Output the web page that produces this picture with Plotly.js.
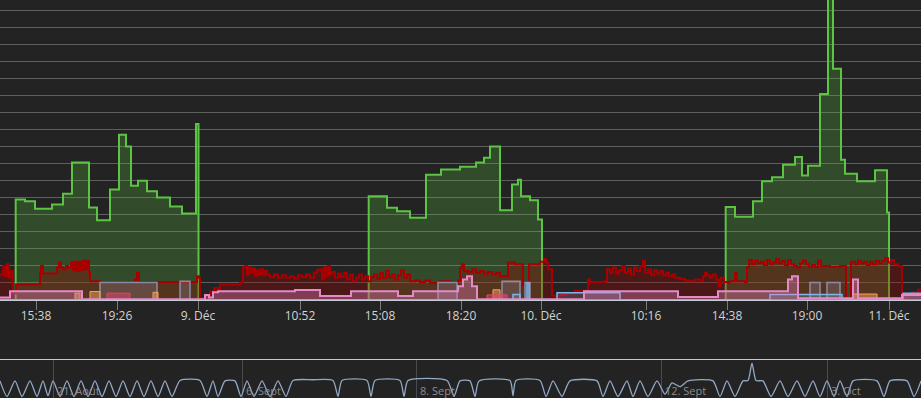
<!DOCTYPE html>
<html>
<head>
<meta charset="utf-8">
<script src="https://cdn.plot.ly/plotly-3.0.1.min.js"></script>
<style>
  html, body { margin: 0; padding: 0; background: #232323; }
  #chart { width: 921px; height: 398px; }
</style>
</head>
<body>
<div id="chart"></div>
<script>
// ---- x axis (ordinal sample index) ----
const tickVals = [36, 117, 198, 300, 380, 461, 541, 646, 727, 807, 889];
const tickText = ['15:38', '19:26', '9. Déc', '10:52', '15:08', '18:20', '10. Déc', '10:16', '14:38', '19:00', '11. Déc'];

// ---- green series (three working periods) ----
const greenX1 = [15.7, 15.7, 25, 35, 52, 63, 72, 89, 97, 110, 119, 126, 131, 138, 147, 157, 170, 182, 196, 198.5];
const greenY1 = [0, 5.89, 5.79, 5.35, 5.6, 6.24, 8.06, 5.42, 4.68, 6.48, 9.7, 9.0, 6.71, 7.0, 6.38, 6.01, 5.48, 5.07, 10.33, 0];
const greenX2 = [368.7, 368.7, 387, 397, 410, 426, 441, 460, 476, 484, 490, 500, 512, 518, 521, 530, 538, 542];
const greenY2 = [0, 6.09, 5.41, 5.21, 4.82, 7.35, 7.65, 7.82, 8.06, 8.35, 9.0, 5.26, 6.77, 7.06, 6.09, 5.85, 4.72, 0];
const greenX3 = [725.7, 725.7, 735, 753, 762, 772, 783, 795, 802, 808, 820, 828, 833, 841, 845, 857, 875, 887, 889];
const greenY3 = [0, 5.46, 4.88, 5.79, 6.96, 7.2, 7.94, 8.39, 7.3, 7.88, 12.08, 19, 13.56, 8.23, 7.4, 6.96, 7.61, 5.13, 0];

// ---- dark red series ----
const redX = [0, 3, 5, 7, 9, 11, 13, 16, 40, 41, 43, 57, 59, 61, 63, 66, 68, 71, 73, 75, 77, 79, 81, 83, 85, 87, 89, 90, 100, 135, 137, 139, 197, 199, 200, 205, 210, 214, 218, 220, 240,
  243, 245, 247, 249, 251, 253, 255, 257, 259, 261, 263, 265, 267, 270, 274, 278, 282, 286, 290, 294, 298, 302, 306, 310, 314, 317,
  320, 322, 324, 326, 328, 330, 332, 335, 338, 341, 344, 347, 350, 353, 356, 359, 362, 365, 368, 371, 374, 377, 380, 383, 386, 389, 392, 395, 398, 401, 404, 407, 410, 415, 420, 425, 430, 440, 450, 458, 460, 462, 464, 468, 472, 476, 480,
  484, 488, 492, 496, 500, 508, 515, 523, 529, 540, 544, 546, 548, 552, 560, 566, 575, 588, 590, 605, 607, 610, 613, 616, 619, 622, 625, 628, 631, 634, 637, 640,
  643, 645, 648, 651, 654, 657, 660, 663, 666, 669, 672, 675, 680, 685, 690, 695, 700, 703, 705, 707, 710, 713, 716, 719, 721, 724, 730, 735, 737, 745, 747, 749, 752, 755, 758, 761, 764, 767, 770, 773, 776, 779, 782, 785, 788, 791, 794, 797, 800,
  803, 806, 809, 812, 815, 818, 821, 824, 830, 835, 840, 846, 848, 851, 855, 858, 861, 864, 867, 870, 873, 876, 879, 882, 885, 888, 891, 894, 898, 902, 906, 912, 918, 921];
const redY = [1.5, 2.0, 1.4, 2.1, 1.3, 1.7, 0.4, 0.91, 1.56, 2.0, 1.56, 1.9, 2.2, 1.9, 1.8, 2.0, 1.9, 2.2, 1.75, 2.25, 1.7, 2.25, 1.75, 2.3, 1.8, 2.3, 1.6, 1.1, 1.01, 1.2, 1.6, 1.05, 1.4, 1.3, 0.1, 0.25, 0.5, 0.7, 0.55, 0.91, 1.03,
  1.9, 2.0, 1.5, 1.9, 1.6, 1.85, 1.4, 1.75, 1.5, 1.8, 1.45, 1.7, 1.5, 1.35, 1.5, 1.3, 1.45, 1.3, 1.4, 1.25, 1.45, 1.35, 1.5, 1.3, 1.6, 1.75,
  1.8, 1.2, 1.9, 1.4, 2.0, 1.5, 1.65, 1.3, 1.55, 1.35, 1.6, 1.2, 1.5, 1.1, 1.3, 1.5, 1.2, 1.4, 1.1, 1.35, 1.5, 1.25, 1.6, 1.3, 1.7, 1.35, 1.5, 1.2, 1.45, 1.75, 1.3, 1.5, 1.1, 1.15, 1.05, 1.15, 1.0, 1.1, 1.05, 1.15, 1.9, 2.1, 1.7, 1.65, 1.8, 1.6, 1.7,
  1.55, 1.65, 1.5, 1.6, 1.4, 2.2, 2.1, 0.9, 2.1, 2.25, 2.4, 2.2, 1.8, 0.25, 0.3, 0.4, 0.55, 1.2, 1.05, 1.1, 1.8, 1.6, 1.9, 1.55, 1.75, 2.0, 1.6, 1.85, 1.5, 1.9, 1.7, 2.0,
  2.3, 1.6, 1.8, 1.5, 1.75, 1.55, 1.7, 1.45, 1.6, 1.4, 1.5, 1.3, 1.25, 1.15, 1.1, 1.2, 1.15, 1.4, 1.6, 1.45, 1.3, 1.5, 1.2, 0.8, 1.3, 1.05, 1.1, 1.6, 1.1, 1.05, 1.9, 2.35, 2.1, 2.3, 2.15, 2.25, 2.05, 2.35, 2.1, 2.2, 2.4, 2.15, 2.3, 2.05, 2.35, 2.1, 2.0, 1.9, 2.15,
  2.3, 2.1, 1.95, 2.05, 1.95, 2.3, 2.0, 2.0, 1.95, 1.95, 2.0, 0.1, 0.1, 2.25, 2.1, 2.3, 2.15, 2.25, 2.05, 2.25, 2.1, 2.3, 2.15, 2.3, 2.45, 2.2, 2.35, 2.1, 2.0, 0.1, 0.35, 0.45, 0.6, 0.6];

// ---- pink series ----
const pinkX = [0, 10, 82, 205, 209, 213, 218, 295, 320, 351, 398, 413, 458, 463, 467, 472, 477, 584, 678, 718, 788, 792, 798, 853, 858, 902, 921];
const pinkY = [0.15, 0.52, 0.05, 0.3, 0.15, 0.45, 0.52, 0.58, 0.23, 0.52, 0.23, 0.52, 0.8, 1.2, 1.4, 0.8, 0.05, 0.52, 0.17, 0.52, 1.2, 1.4, 0.1, 1.2, 0.1, 0.3, 0.3];

// ---- lavender series ----
const lavX = [0, 100, 157, 180, 190, 438, 457, 502, 520, 525, 530, 810, 820, 827, 840, 921];
const lavY = [0.02, 1.03, 0.02, 1.1, 0.02, 1.03, 0.02, 1.1, 0.02, 1.03, 0.02, 1.03, 0.02, 1.03, 0.02, 0.02];

// ---- light blue series ----
const blueX = [0, 513, 520, 527, 529, 557, 620, 770, 842, 903, 921];
const blueY = [0.02, 0.33, 0.02, 1.0, 0.02, 0.43, 0.02, 0.33, 0.02, 0.4, 0.4];

// ---- orange and coral series ----
const orangeX = [0, 75, 80, 90, 100, 153, 158, 493, 500, 853, 877, 921];
const orangeY = [0, 0.4, 0, 0.5, 0, 0.45, 0, 0.6, 0, 0.35, 0, 0];
const coralX = [0, 107, 130, 487, 507, 921];
const coralY = [0, 0.4, 0, 0.3, 0, 0];

// ---- navigator ----
const navTickVals = [53, 242, 416, 661, 827];
const navTickText = ['21. Août', '6. Sept', '8. Sept', '12. Sept', '3. Oct'];
const navX = [0, 7, 15, 22, 30, 37, 43, 48, 53, 60, 67, 74, 81, 88, 95, 102, 109, 116, 123, 130, 137, 144, 151, 158, 165, 172, 180,
  200, 207, 213, 218, 225, 235, 241, 247, 254, 262, 270, 278, 286, 293, 313, 333, 338, 342, 367, 371, 375, 400, 404, 408, 447, 454, 460,
  470, 475, 479, 510, 513, 516, 540, 546, 553, 562, 570, 597, 603, 610, 618, 627, 633, 640, 648, 657, 665, 672, 680, 688,
  713, 720, 727, 735, 743, 748, 752, 756, 763, 771, 780, 788, 797, 805, 813, 820, 827, 834, 840, 847, 853, 877, 884, 890, 907, 914, 921];
const navY = [4.5, 0.4, 4.5, 0.4, 4.5, 0.4, 4.5, 0.6, 4.5, 0.4, 4.5, 0.4, 4.5, 0.4, 4.5, 0.4, 4.5, 0.4, 4.5, 0.4, 4.5, 0.4, 4.5, 0.4, 4.5, 0.4, 4.6,
  4.6, 0.4, 4.5, 0.4, 4.5, 4.5, 0.4, 4.5, 0.4, 4.5, 0.4, 4.5, 0.4, 4.6, 4.8, 4.6, 0.4, 4.6, 4.6, 0.4, 4.6, 4.6, 0.4, 4.6, 4.6, 0.4, 4.5,
  4.5, 0.4, 4.5, 4.6, 0.6, 4.6, 4.6, 0.4, 4.5, 0.4, 4.5, 4.5, 0.4, 4.5, 0.4, 4.5, 0.4, 4.5, 0.4, 4.5, 1.0, 4.0, 3.0, 4.5,
  4.5, 0.4, 4.5, 0.4, 4.5, 4.6, 9.2, 4.6, 4.5, 0.4, 4.5, 0.4, 4.5, 0.4, 4.5, 0.4, 4.5, 0.4, 4.5, 0.4, 4.5, 4.5, 0.4, 4.5, 4.5, 0.4, 4.5];

function stepTrace(x, y, line, fill, width) {
  return {
    type: 'scatter', mode: 'lines', x: x, y: y, xaxis: 'x', yaxis: 'y',
    line: { shape: 'hv', color: line, width: width },
    fill: 'tozeroy', fillcolor: fill, hoverinfo: 'skip'
  };
}

const greenLine = '#5cc443', greenFill = 'rgba(92,196,67,0.25)';
const data = [
  stepTrace(greenX1, greenY1, greenLine, greenFill, 2),
  stepTrace(greenX2, greenY2, greenLine, greenFill, 2),
  stepTrace(greenX3, greenY3, greenLine, greenFill, 2),
  stepTrace(redX, redY, '#a80000', 'rgba(170,0,0,0.3)', 2),
  stepTrace(lavX, lavY, '#8e8aa6', 'rgba(150,140,175,0.25)', 1.5),
  stepTrace(orangeX, orangeY, '#f7a35c', 'rgba(247,163,92,0.5)', 1),
  stepTrace(coralX, coralY, '#e8426a', 'rgba(232,66,106,0.5)', 1),
  stepTrace(blueX, blueY, '#7cb5ec', 'rgba(124,181,236,0.2)', 1.5),
  stepTrace(pinkX, pinkY, '#e58ac8', 'rgba(230,130,195,0.35)', 2),
  {
    type: 'scatter', mode: 'lines', x: navX, y: navY, xaxis: 'x2', yaxis: 'y2',
    line: { shape: 'spline', smoothing: 0.6, color: '#93a9c6', width: 1.3 }, hoverinfo: 'skip'
  }
];

const annotations = navTickVals.map((v, i) => ({
  xref: 'x2', yref: 'paper', x: v, y: 0, xanchor: 'left', yanchor: 'bottom',
  xshift: 3, yshift: -1, borderpad: 0, text: navTickText[i], showarrow: false,
  font: { family: 'Open Sans', size: 11, color: '#8c8c8c' }
}));

const layout = {
  width: 921, height: 398,
  margin: { l: 0, r: 0, t: 0, b: 0 },
  paper_bgcolor: '#232323', plot_bgcolor: '#232323',
  showlegend: false,
  xaxis: {
    domain: [0, 1], range: [0, 921], anchor: 'y',
    tickmode: 'array', tickvals: tickVals, ticktext: tickText,
    ticks: 'outside', ticklen: 9, tickcolor: '#7a7a7a', tickwidth: 1,
    ticklabelstandoff: -4,
    showgrid: false, zeroline: false,
    showline: true, linecolor: '#c4ccd8', linewidth: 1,
    tickfont: { family: 'Open Sans', size: 12, color: '#d2d2d2' }
  },
  yaxis: {
    domain: [98 / 398, 1], range: [0, 17.6], anchor: 'x',
    tick0: 0, dtick: 1, showgrid: true, gridcolor: '#5e5e5e', gridwidth: 1,
    showticklabels: false, zeroline: false, ticks: ''
  },
  xaxis2: {
    domain: [0, 1], range: [0, 921], anchor: 'y2', side: 'top',
    tickmode: 'array', tickvals: navTickVals, showticklabels: false, ticks: '',
    showgrid: true, gridcolor: '#4c4c4c', zeroline: false,
    showline: true, linecolor: '#c8c8c8', linewidth: 1
  },
  yaxis2: {
    domain: [0, 38 / 398], range: [0, 10], anchor: 'x2',
    showgrid: false, showticklabels: false, zeroline: false, ticks: ''
  },
  annotations: annotations
};

Plotly.newPlot('chart', data, layout, { displayModeBar: false, staticPlot: true });
</script>
</body>
</html>
